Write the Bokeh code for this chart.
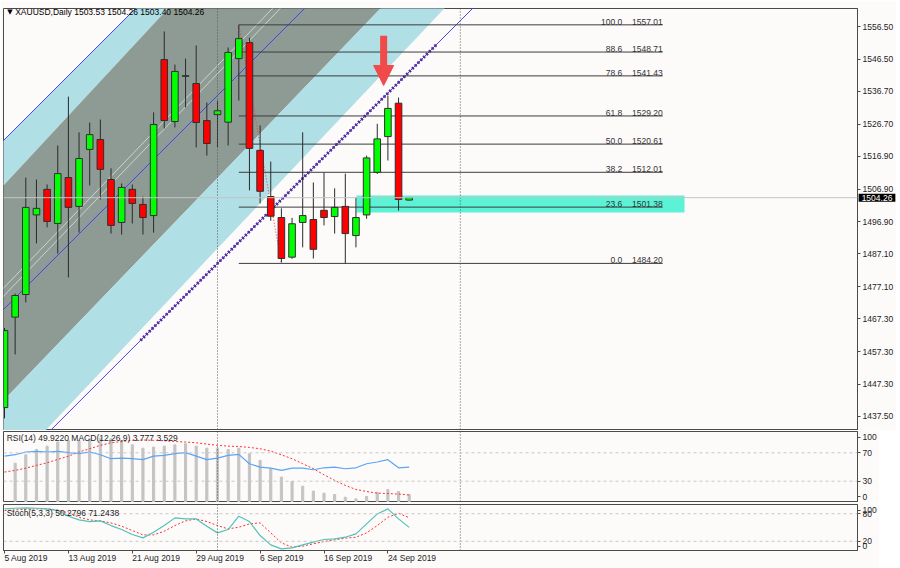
import numpy as np
from bokeh.plotting import figure
from bokeh.layouts import column
from bokeh.models import (Range1d, FixedTicker, PrintfTickFormatter, Label, Span,
                          Arrow, NormalHead, LinearAxis)
from bokeh.core.properties import value
from bokeh.embed import file_html
from bokeh.resources import INLINE

# ------------------------------------------------------------------ data
header_text = "XAUUSD,Daily  1503.53 1504.26 1503.40 1504.26"

opens = [1440.2, 1467.8, 1474.7, 1499.0, 1506.8, 1496.4, 1510.4, 1501.6, 1519.0, 1522.0,
         1509.8, 1496.7, 1506.8, 1502.2, 1498.8, 1546.4, 1527.5, 1541.3, 1539.1, 1527.8,
         1529.6, 1527.3, 1546.7, 1551.6, 1518.7, 1504.6, 1498.2, 1486.1, 1496.7, 1497.6,
         1500.4, 1498.5, 1501.6, 1492.7, 1499.0, 1512.0, 1522.9, 1533.1, 1503.53]
highs = [1464.5, 1475.0, 1510.4, 1509.8, 1508.3, 1520.2, 1535.1, 1524.2, 1527.2, 1528.1,
         1513.2, 1508.6, 1508.3, 1504.6, 1530.3, 1555.0, 1544.9, 1546.7, 1550.7, 1533.3,
         1533.9, 1550.1, 1557.01, 1553.1, 1526.3, 1515.3, 1501.0, 1498.1, 1524.2, 1508.9,
         1511.9, 1507.1, 1511.6, 1504.3, 1517.1, 1526.8, 1535.4, 1534.8, 1504.26]
lows = [1436.9, 1456.4, 1472.3, 1490.3, 1495.2, 1487.2, 1479.9, 1493.6, 1508.0, 1503.7,
        1493.3, 1493.0, 1496.4, 1493.0, 1493.6, 1525.4, 1525.7, 1531.8, 1519.6, 1517.1,
        1519.6, 1520.2, 1533.9, 1506.5, 1502.5, 1497.2, 1484.5, 1485.6, 1489.1, 1485.7,
        1495.8, 1493.3, 1484.2, 1489.1, 1497.8, 1511.5, 1515.6, 1500.3, 1503.40]
closes = [1463.7, 1474.4, 1501.3, 1501.0, 1497.0, 1511.6, 1501.3, 1516.2, 1523.5, 1512.9,
          1495.8, 1507.4, 1502.5, 1498.2, 1526.6, 1527.8, 1542.8, 1541.5, 1527.2, 1520.8,
          1530.8, 1548.6, 1552.8, 1519.3, 1506.2, 1498.6, 1485.7, 1496.3, 1498.8, 1488.5,
          1498.2, 1501.3, 1493.3, 1498.2, 1516.4, 1522.2, 1531.5, 1503.7, 1504.26]

date_tick_bars = [0, 6, 12, 18, 24, 30, 36]
date_tick_labels = ["5 Aug 2019", "13 Aug 2019", "21 Aug 2019", "29 Aug 2019",
                    "6 Sep 2019", "16 Sep 2019", "24 Sep 2019"]

price_ticks = [1556.50, 1546.50, 1536.70, 1526.70, 1516.90, 1506.90, 1496.90,
               1487.10, 1477.10, 1467.30, 1457.30, 1447.30, 1437.50]

# Fibonacci retracement (anchored at bar 22 high and bar 26 low)
fib_anchor_bars = [22, 26]
fib_levels = ["100.0", "88.6", "78.6", "61.8", "50.0", "38.2", "23.6", "0.0"]
fib_prices = [1557.01, 1548.71, 1541.43, 1529.20, 1520.61, 1512.01, 1501.38, 1484.20]

# support zone rectangle
zone_bars = [33.05, 63.85]
zone_prices = [1499.7, 1504.9]

# channel drawing anchors (bar, price) at bars -1 and 45
chan_bars = [-1, 45]
chan_upper_line = [1518.77, 1668.26]
chan_gray_top = [1504.81, 1665.67]
chan_gray_bottom = [1439.31, 1594.78]
chan_teal_bottom = [1416.56, 1574.73]
chan_lower_line = [1415.93, 1565.43]
chan_mid_line = [1467.20, 1616.69]
chan_inner1 = [1473.58, 1629.06]
chan_inner2 = [1471.14, 1626.62]
trend_dot_bars = [12.77, 40.66]
trend_dot_prices = [1460.7, 1551.3]

arrow_bar = 35.6
arrow_prices = [1553.7, 1538.5]

vlines = [20, 42.8]

# indicators
rsi = [65.4, 67.3, 71.1, 72.0, 71.1, 72.0, 70.2, 68.8, 71.1, 67.3,
       61.7, 62.6, 61.7, 60.3, 65.4, 66.4, 68.8, 70.2, 65.4, 60.3,
       62.6, 66.4, 67.8, 54.6, 49.9, 48.5, 45.2, 48.5, 48.5, 46.1,
       48.9, 49.9, 47.5, 48.9, 54.6, 57.0, 60.3, 48.9, 49.92]
macd_bars = list(range(1, 39))
macd_hist = [20.7, 25.2, 28.1, 29.9, 32.1, 33.0, 33.0, 33.9, 34.2, 33.9,
             33.0, 30.6, 28.8, 29.4, 29.9, 30.6, 31.2, 29.9, 28.8, 28.8,
             28.1, 28.8, 25.8, 22.2, 17.7, 13.2, 10.8, 8.3, 5.6, 4.5,
             3.8, 2.3, 1.4, 2.7, 5.0, 6.5, 5.4, 3.777]
macd_signal = [15.9, 16.8, 18.0, 19.5, 20.9, 22.7, 24.5, 26.7, 28.5, 30.3,
               31.7, 32.4, 33.0, 33.2, 33.0, 32.8, 32.4, 32.1, 31.7, 31.0,
               30.3, 29.9, 29.7, 29.2, 28.5, 27.2, 25.2, 23.1, 20.4, 17.7,
               14.4, 11.4, 8.7, 6.5, 5.4, 4.5, 4.3, 4.0, 3.529]
stoch_main = [90.4, 91.8, 92.5, 91.8, 90.4, 86.8, 74.5, 66.5, 62.9, 64.4,
              54.2, 45.6, 34.7, 27.5, 39.8, 54.2, 70.9, 68.7, 68.7, 52.8,
              38.3, 45.6, 74.5, 62.9, 32.5, 12.3, 3.6, 5.8, 12.3, 18.1,
              23.9, 25.3, 28.9, 36.2, 57.8, 79.5, 90.4, 68.7, 50.28]
stoch_signal = [86.8, 88.2, 89.7, 90.4, 90.4, 88.2, 81.7, 72.3, 66.5, 64.4,
                60.0, 52.8, 43.4, 34.0, 34.0, 41.9, 54.2, 64.4, 68.7, 62.9,
                54.2, 47.0, 50.6, 57.8, 60.0, 38.3, 16.6, 7.2, 9.4, 14.5,
                19.5, 23.1, 26.8, 28.9, 38.3, 54.2, 72.3, 80.9, 71.24]
rsi_label = "RSI(14) 49.9220  MACD(12,26,9) 3.777 3.529"
stoch_label = "Stoch(5,3,3) 50.2796 71.2438"
rsi_ticks = {92: "100", 70: "70", 30: "30", 8: "0"}
stoch_ticks = {87: "100", 80: "80", 20: "20", 9: "0"}

# ------------------------------------------------------------------ style
FONT = "Liberation Sans"
TXT = "#1e1e1e"
BG = "#fdfafa"
FRAME = "#4a4a4a"
TEAL = "#b0dfe5"
GRAY = "#8e9b94"
BLUE = "#4646f0"
FS = "8.5px"

bars = np.arange(len(opens))
o = np.array(opens); c = np.array(closes)
up = c >= o
xr = Range1d(-0.094, 80.094)


def base_fig(fh, yr, top=0):
    f = figure(frame_width=854, frame_height=fh, x_range=xr, y_range=yr,
               output_backend="svg", toolbar_location=None,
               x_axis_location=None, y_axis_location="right",
               min_border_left=3, min_border_right=0, min_border_top=top,
               min_border_bottom=0, background_fill_color=BG, border_fill_color=BG)
    f.grid.visible = False
    f.outline_line_color = FRAME
    f.outline_line_width = 1
    ax = f.yaxis[0]
    ax.axis_line_color = FRAME
    ax.major_tick_out = 3
    ax.major_tick_in = 0
    ax.minor_tick_out = 0
    ax.minor_tick_in = 0
    ax.major_tick_line_color = FRAME
    ax.major_label_text_font = FONT
    ax.major_label_text_font_size = FS
    ax.major_label_text_color = TXT
    ax.major_label_standoff = 2
    for v in vlines:
        f.add_layout(Span(location=v, dimension="height", line_color="#555555",
                          line_dash="1 2", line_width=1))
    return f


# ------------------------------------------------------------------ main
p1 = base_fig(422, Range1d(1433.2, 1562.0), top=8)
p1.yaxis.ticker = FixedTicker(ticks=price_ticks)
p1.yaxis.formatter = PrintfTickFormatter(format="%.2f")

cx = [chan_bars[0], chan_bars[1], chan_bars[1], chan_bars[0]]
p1.patch(cx, [chan_upper_line[0], chan_upper_line[1], chan_gray_top[1], chan_gray_top[0]],
         fill_color=TEAL, line_alpha=0)
p1.patch(cx, [chan_gray_top[0], chan_gray_top[1], chan_gray_bottom[1], chan_gray_bottom[0]],
         fill_color=GRAY, line_alpha=0)
p1.patch(cx, [chan_gray_bottom[0], chan_gray_bottom[1], chan_teal_bottom[1], chan_teal_bottom[0]],
         fill_color=TEAL, line_alpha=0)
p1.line(chan_bars, chan_inner1, line_color="#d9e2dd", line_width=1, line_alpha=0.8)
p1.line(chan_bars, chan_inner2, line_color="#d9e2dd", line_width=1, line_alpha=0.8)
p1.line(chan_bars, chan_mid_line, line_color=BLUE, line_width=1)
p1.line(chan_bars, chan_upper_line, line_color=BLUE, line_width=1)
p1.line(chan_bars, chan_lower_line, line_color=BLUE, line_width=1)
p1.line(trend_dot_bars, trend_dot_prices, line_color="#5a2d9c", line_width=3, line_dash="2 2")

p1.add_layout(Span(location=closes[-1], dimension="width", line_color="#c4c4c4", line_width=1))

p1.quad(left=[zone_bars[0]], right=[zone_bars[1]], bottom=[zone_prices[0]], top=[zone_prices[1]],
        fill_color="#5cf2d6", line_alpha=0)

fib_end = 61.8
p1.segment(x0=[fib_anchor_bars[0]] * len(fib_prices), y0=fib_prices,
           x1=[fib_end] * len(fib_prices), y1=fib_prices, line_color="#3c3c3c", line_width=1)
p1.line([fib_anchor_bars[0], fib_anchor_bars[1]], [fib_prices[0], fib_prices[-1]],
        line_color="#ff3030", line_dash="1 2", line_width=1)
p1.text(x=[58.0] * len(fib_prices), y=fib_prices, text=fib_levels, text_align="right",
        text_baseline="bottom", text_font=value(FONT), text_font_size=FS, text_color="#333333")
p1.text(x=[fib_end] * len(fib_prices), y=fib_prices, text=[f"{v:.2f}" for v in fib_prices],
        text_align="right", text_baseline="bottom", text_font=value(FONT),
        text_font_size=FS, text_color="#333333")

# candles
p1.segment(x0=bars, y0=lows, x1=bars, y1=highs, line_color="#2a2a2a", line_width=1)
p1.vbar(x=bars[up], width=0.62, top=c[up], bottom=o[up], fill_color="#00ff00",
        line_color="#2f2f2f", line_width=1)
p1.vbar(x=bars[~up], width=0.62, top=o[~up], bottom=c[~up], fill_color="#ff0000",
        line_color="#2f2f2f", line_width=1)

# red arrow
p1.segment(x0=[arrow_bar], y0=[arrow_prices[0]], x1=[arrow_bar], y1=[arrow_prices[1] + 5.5],
           line_color="#f04a4a", line_width=7)
p1.add_layout(Arrow(end=NormalHead(size=20, fill_color="#f04a4a", line_color="#f04a4a"),
                    x_start=arrow_bar, y_start=arrow_prices[1] + 6.5,
                    x_end=arrow_bar, y_end=arrow_prices[1], line_alpha=0))

p1.add_layout(Label(x=0.25, y=1560.9, text="▼", text_font="DejaVu Sans", text_font_size="7px",
                    text_baseline="middle", text_color="black"))
p1.add_layout(Label(x=1.0, y=1560.9, text=header_text, text_font=FONT, text_font_size=FS,
                    text_baseline="middle", text_color="black"))
# current price box on the price scale (placed in a side panel so it is not clipped)
price_box = Label(x=80.2, y=closes[-1], text=f"{closes[-1]:.2f}", text_font=FONT,
                  text_font_size=FS, text_baseline="middle", text_align="left",
                  text_color="white", background_fill_color="black")
try:
    price_box.padding = dict(x=3, y=1)
except Exception:
    try:
        price_box.padding = 1
    except Exception:
        pass
p1.add_layout(price_box, "above")

# ------------------------------------------------------------------ RSI + MACD
p2 = base_fig(71, Range1d(0, 100), top=1)
p2.extra_y_ranges = {"macd": Range1d(-0.54, 37.8)}
p2.yaxis.ticker = FixedTicker(ticks=list(rsi_ticks.keys()))
p2.yaxis.major_label_overrides = rsi_ticks
for lv in (70, 30):
    p2.add_layout(Span(location=lv, dimension="width", line_color="#c8c8c8", line_dash="3 3"))
p2.vbar(x=macd_bars, top=macd_hist, bottom=0, width=0.2, fill_color="#c4c4c4",
        line_color="#c4c4c4", y_range_name="macd")
p2.line(bars, macd_signal, line_color="#ff3030", line_dash="2 2", line_width=1, y_range_name="macd")
p2.line(bars, rsi, line_color="#5aa5f5", line_width=1.2)
p2.add_layout(Label(x=0.2, y=91, text=rsi_label, text_font=FONT, text_font_size=FS,
                    text_baseline="middle", text_color=TXT))

# ------------------------------------------------------------------ Stochastic
p3 = base_fig(46, Range1d(0, 100), top=2)
p3.yaxis.ticker = FixedTicker(ticks=list(stoch_ticks.keys()))
p3.yaxis.major_label_overrides = stoch_ticks
for lv in (80, 20):
    p3.add_layout(Span(location=lv, dimension="width", line_color="#c8c8c8", line_dash="3 3"))
p3.line(bars, stoch_signal, line_color="#ff3030", line_dash="2 2", line_width=1)
p3.line(bars, stoch_main, line_color="#4fc4b8", line_width=1.2)
p3.add_layout(Label(x=0.2, y=82, text=stoch_label, text_font=FONT, text_font_size=FS,
                    text_baseline="middle", text_color=TXT))

xax = LinearAxis(ticker=FixedTicker(ticks=date_tick_bars),
                 major_label_overrides={b: l for b, l in zip(date_tick_bars, date_tick_labels)})
xax.major_label_orientation = -0.00001
xax.major_label_text_font = FONT
xax.major_label_text_font_size = FS
xax.major_label_text_color = TXT
xax.major_tick_out = 3
xax.major_tick_in = 0
xax.minor_tick_out = 0
xax.minor_tick_in = 0
xax.major_label_standoff = 4
xax.axis_line_color = FRAME
xax.major_tick_line_color = FRAME
p3.add_layout(xax, "below")

layout = column(p1, p2, p3, spacing=0)
open("out.html", "w").write(file_html(layout, INLINE))
